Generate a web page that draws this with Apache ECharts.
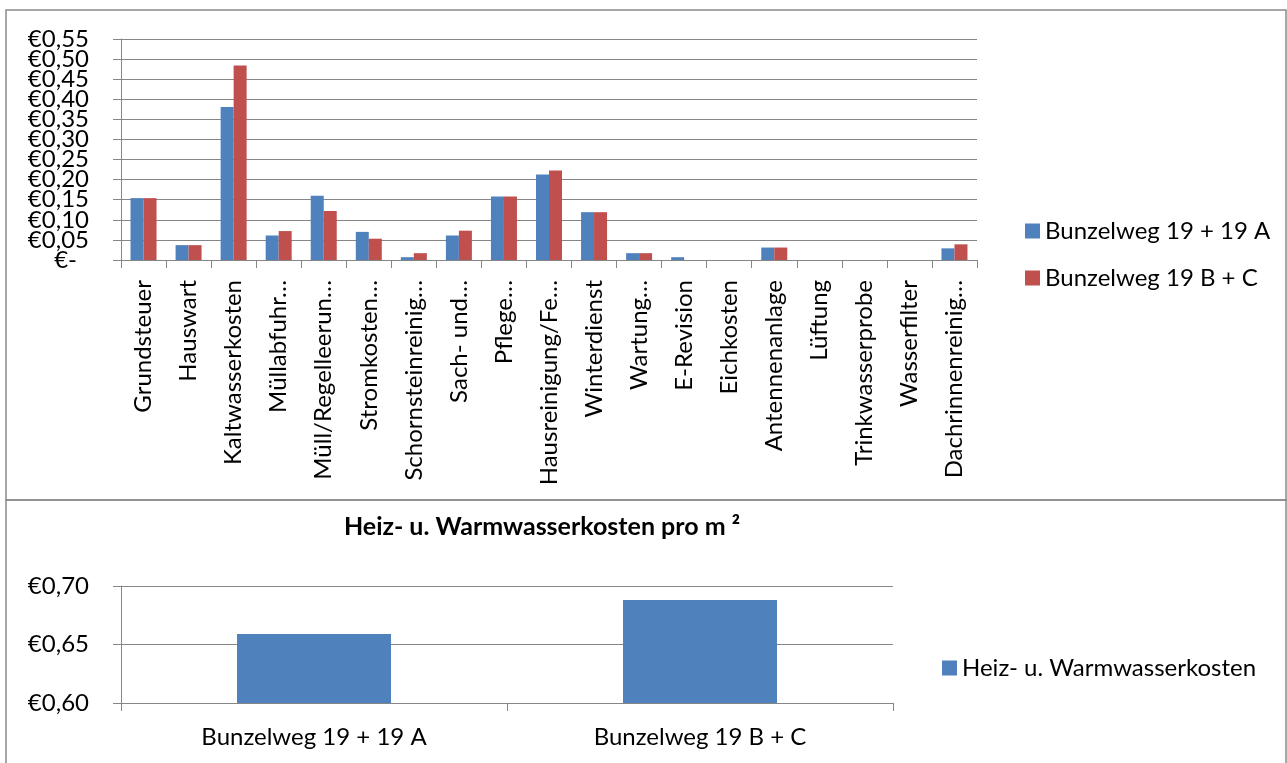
<!DOCTYPE html>
<html>
<head>
<meta charset="utf-8">
<script src="https://cdn.jsdelivr.net/npm/echarts@6/dist/echarts.min.js"></script>
<style>
  html, body { margin: 0; padding: 0; background: #fff; }
  #chart { width: 1287px; height: 763px; }
</style>
</head>
<body>
<div id="chart"></div>
<script>
// Nebenkosten pro m² je Kostenart
const categories = ['Grundsteuer', 'Hauswart', 'Kaltwasserkosten', 'Müllabfuhr…', 'Müll/Regelleerun…',
  'Stromkosten…', 'Schornsteinreinig…', 'Sach- und…', 'Pflege…', 'Hausreinigung/Fe…', 'Winterdienst',
  'Wartung…', 'E-Revision', 'Eichkosten', 'Antennenanlage', 'Lüftung', 'Trinkwasserprobe',
  'Wasserfilter', 'Dachrinnenreinig…'];
const seriesNames = ['Bunzelweg 19 + 19 A', 'Bunzelweg 19 B + C'];
const costsA = [0.154, 0.037, 0.381, 0.061, 0.160, 0.070, 0.007, 0.061, 0.158, 0.213, 0.119,
  0.017, 0.007, 0, 0.031, 0, 0, 0, 0.029];
const costsBC = [0.154, 0.037, 0.484, 0.072, 0.122, 0.053, 0.017, 0.073, 0.158, 0.223, 0.119,
  0.017, 0, 0, 0.031, 0, 0, 0, 0.039];

// Heiz- und Warmwasserkosten pro m²
const heatTitle = 'Heiz- u. Warmwasserkosten pro m ²';
const heatSeriesName = 'Heiz- u. Warmwasserkosten';
const heatCategories = ['Bunzelweg 19 + 19 A', 'Bunzelweg 19 B + C'];
const heatCosts = [0.659, 0.688];

const FONT = 'Lato';
const FS = 24;
const GRID_COLOR = '#868686';
const BLUE = '#4F81BD';
const RED = '#C0504D';

// Upper plot geometry; the euro labels are set every 0.05 (20 px apart), tighter
// than the font height, so they are split over two label-only axes 0.1 apart.
const TOP = { left: 121, top: 39, width: 856, height: 221, max: 0.55, step: 0.05 };
const STEP_PX = TOP.height / (TOP.max / TOP.step);

function euro(v) {
  if (v < -1e-9) return '';
  if (Math.abs(v) < 1e-9) return '{dash|€-}';
  return '€' + v.toFixed(2).replace('.', ',');
}

const labelStyle = {
  margin: 32, fontFamily: FONT, fontSize: FS, color: '#000', formatter: euro,
  rich: { dash: { fontFamily: FONT, fontSize: FS, color: '#000', padding: [0, 12, 0, 0] } }
};

const labelOnlyAxis = (gridIndex, min, max) => ({
  type: 'value', gridIndex, min, max, interval: 0.1,
  axisLine: { show: false }, axisTick: { show: false }, splitLine: { show: false },
  axisLabel: labelStyle
});

const hiddenX = (gridIndex) => ({ type: 'value', gridIndex, show: false, min: 0, max: 1 });

const chart = echarts.init(document.getElementById('chart'), null, { renderer: 'canvas' });

chart.setOption({
  animation: false,
  textStyle: { fontFamily: FONT, color: '#000' },
  graphic: [
    { type: 'rect', shape: { x: 6, y: 10, width: 1280, height: 490 },
      style: { fill: 'none', stroke: '#8a8a8a', lineWidth: 1.5 }, silent: true },
    { type: 'rect', shape: { x: 6, y: 500, width: 1280, height: 270 },
      style: { fill: 'none', stroke: '#8a8a8a', lineWidth: 1.5 }, silent: true }
  ],
  title: {
    text: heatTitle,
    left: 537, top: 509, textAlign: 'center',
    textStyle: { fontFamily: FONT, fontWeight: 'bold', fontSize: 25, color: '#000' }
  },
  legend: [
    {
      data: seriesNames,
      orient: 'vertical', left: 1020, top: 212,
      itemWidth: 15, itemHeight: 15, itemGap: 19, icon: 'rect',
      textStyle: { fontFamily: FONT, fontSize: FS, color: '#000', lineHeight: 28 }
    },
    {
      data: [heatSeriesName],
      orient: 'vertical', left: 937, top: 649,
      itemWidth: 15, itemHeight: 15, icon: 'rect', itemGap: 4,
      textStyle: { fontFamily: FONT, fontSize: FS, color: '#000', lineHeight: 28 }
    }
  ],
  grid: [
    { left: TOP.left, top: TOP.top, width: TOP.width, height: TOP.height },
    { left: 121, top: 586, width: 772, height: 117 },
    // labels at 0, 0.10, ... 0.50
    { left: TOP.left, top: TOP.top + STEP_PX, width: TOP.width, height: TOP.height - STEP_PX },
    // labels at 0.05, 0.15, ... 0.55 (one step below zero keeps the scale aligned)
    { left: TOP.left, top: TOP.top, width: TOP.width, height: TOP.height + STEP_PX }
  ],
  xAxis: [
    {
      type: 'category', gridIndex: 0, data: categories,
      axisLine: { show: true, lineStyle: { color: GRID_COLOR, width: 1 } },
      axisTick: { show: true, length: 8, interval: 0, alignWithLabel: false, lineStyle: { color: GRID_COLOR } },
      axisLabel: { interval: 0, rotate: 90, margin: 20, fontFamily: FONT, fontSize: FS, color: '#000' }
    },
    {
      type: 'category', gridIndex: 1, data: heatCategories,
      axisLine: { show: true, lineStyle: { color: GRID_COLOR, width: 1 } },
      axisTick: { show: true, length: 8, interval: 0, alignWithLabel: false, lineStyle: { color: GRID_COLOR } },
      axisLabel: { interval: 0, margin: 22, fontFamily: FONT, fontSize: FS, color: '#000' }
    },
    hiddenX(2),
    hiddenX(3)
  ],
  yAxis: [
    {
      type: 'value', gridIndex: 0, min: 0, max: TOP.max, interval: TOP.step,
      axisLine: { show: true, lineStyle: { color: GRID_COLOR, width: 1 } },
      axisTick: { show: true, length: 8, lineStyle: { color: GRID_COLOR, width: 1 } },
      splitLine: { show: true, lineStyle: { color: GRID_COLOR, width: 1 } },
      axisLabel: { show: false }
    },
    {
      type: 'value', gridIndex: 1, min: 0.6, max: 0.7, interval: 0.05,
      axisLine: { show: true, lineStyle: { color: GRID_COLOR, width: 1 } },
      axisTick: { show: true, length: 8, lineStyle: { color: GRID_COLOR, width: 1 } },
      splitLine: { show: true, lineStyle: { color: GRID_COLOR, width: 1 } },
      axisLabel: { margin: 32, fontFamily: FONT, fontSize: FS, color: '#000', formatter: euro,
        showMinLabel: true, showMaxLabel: true }
    },
    labelOnlyAxis(2, 0, 0.5),
    labelOnlyAxis(3, -0.05, 0.55)
  ],
  series: [
    { name: seriesNames[0], type: 'bar', xAxisIndex: 0, yAxisIndex: 0, data: costsA,
      barWidth: 13, barGap: '0%', itemStyle: { color: BLUE } },
    { name: seriesNames[1], type: 'bar', xAxisIndex: 0, yAxisIndex: 0, data: costsBC,
      barWidth: 13, barGap: '0%', itemStyle: { color: RED } },
    { name: heatSeriesName, type: 'bar', xAxisIndex: 1, yAxisIndex: 1, data: heatCosts,
      barWidth: 154, itemStyle: { color: BLUE } }
  ]
});
</script>
</body>
</html>
